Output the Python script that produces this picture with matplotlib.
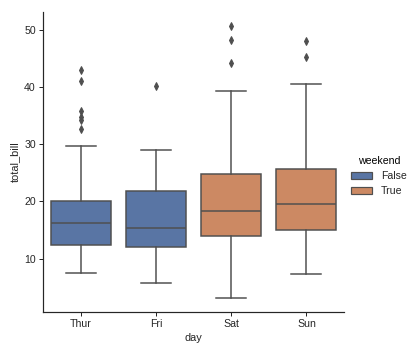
import matplotlib
matplotlib.use("Agg")
import matplotlib.pyplot as plt
from matplotlib.patches import Patch

# ── 데이터 ─────────────────────────────────────────────────────────
days     = ["Thur", "Fri", "Sat", "Sun"]
weekend  = [False, False, True, True]
q1       = [12.44, 12.10, 13.91, 14.99]
med      = [16.20, 15.38, 18.24, 19.63]
q3       = [20.16, 21.75, 24.74, 25.60]
whislo   = [7.51, 5.75, 3.07, 7.25]
whishi   = [29.80, 28.97, 39.42, 40.55]
fliers   = [[32.68, 34.30, 34.83, 35.83, 41.19, 43.11],
            [40.17],
            [44.30, 48.27, 50.81],
            [45.35, 48.17]]

BLUE   = "#5975a4"
ORANGE = "#cc8963"
GRAY   = "#4f4f4f"

plt.rcParams["font.family"] = ["Arial", "Liberation Sans", "DejaVu Sans"]

fig = plt.figure(figsize=(415 / 72, 352 / 72), dpi=72)
ax = fig.add_axes([43.3 / 415, 1 - 311.7 / 352, (344 - 43.3) / 415, (311.7 - 12) / 352])

stats = []
for i, d in enumerate(days):
    stats.append({"med": med[i], "q1": q1[i], "q3": q3[i],
                  "whislo": whislo[i], "whishi": whishi[i],
                  "fliers": fliers[i], "label": d})

bp = ax.bxp(stats, positions=range(len(days)), widths=0.8,
            patch_artist=True, showfliers=True,
            boxprops=dict(edgecolor=GRAY, linewidth=1.5),
            medianprops=dict(color=GRAY, linewidth=1.5),
            whiskerprops=dict(color=GRAY, linewidth=1.5),
            capprops=dict(color=GRAY, linewidth=1.5),
            flierprops=dict(marker="d", markersize=5, markerfacecolor=GRAY,
                            markeredgecolor=GRAY, linestyle="none"))
for box, w in zip(bp["boxes"], weekend):
    box.set_facecolor(ORANGE if w else BLUE)
for cap in bp["caps"]:
    x = cap.get_xdata()
    c = (x[0] + x[1]) / 2
    cap.set_xdata([c - 0.2, c + 0.2])

ax.set_xlim(-0.5, 3.5)
ax.set_ylim(0.68, 53.2)
ax.set_yticks([10, 20, 30, 40, 50])
ax.set_xticks(range(len(days)))
ax.set_xticklabels(days)
ax.set_xlabel("day", fontsize=11, color="#262626")
ax.set_ylabel("total_bill", fontsize=11, color="#262626")
ax.tick_params(labelsize=10.5, colors="#262626", length=4, width=1)
for s in ["top", "right"]:
    ax.spines[s].set_visible(False)
for s in ["left", "bottom"]:
    ax.spines[s].set_color("#262626")
    ax.spines[s].set_linewidth(1.2)

handles = [Patch(facecolor=BLUE, edgecolor=GRAY, linewidth=1.2, label="False"),
           Patch(facecolor=ORANGE, edgecolor=GRAY, linewidth=1.2, label="True")]
leg = fig.legend(handles=handles, title="weekend", loc="center left",
                 bbox_to_anchor=(342 / 415, 0.5), frameon=False, fontsize=10.5,
                 title_fontsize=10.5)
for t in leg.get_texts():
    t.set_color("#262626")

fig.savefig("out.png", dpi=72)
